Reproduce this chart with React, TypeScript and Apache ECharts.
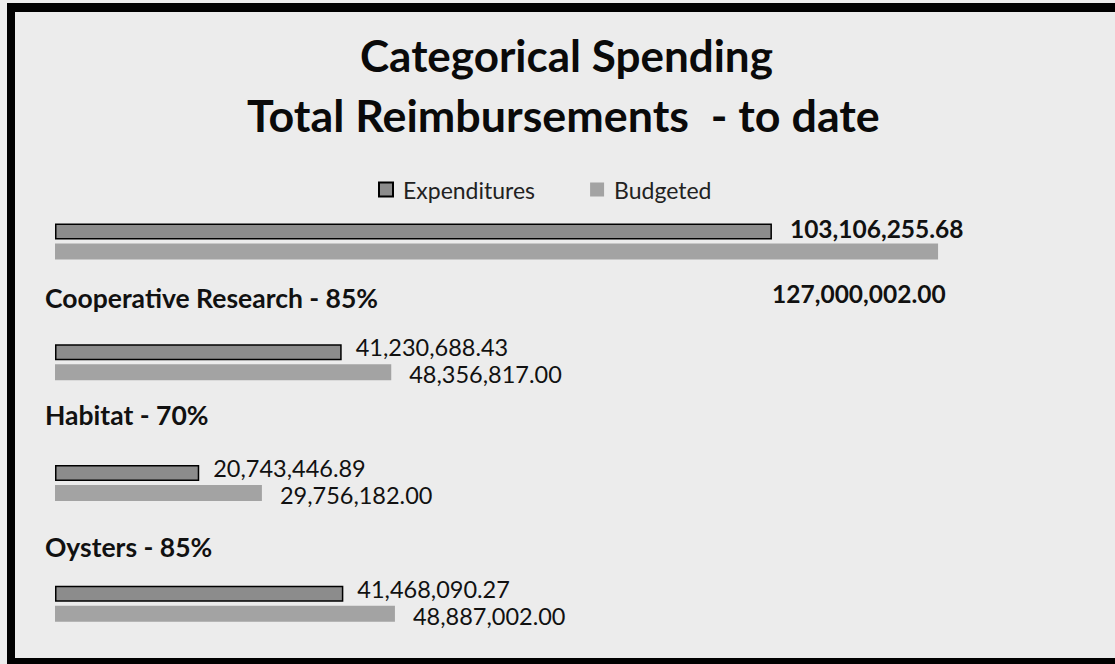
import React, { useEffect, useRef } from "react";
import * as echarts from "echarts";

const categories = ["", "Cooperative Research - 85%", "Habitat - 70%", "Oysters - 85%"];
const expenditures = [103106255.68, 41230688.43, 20743446.89, 41468090.27];
const budgeted = [127000002.0, 48356817.0, 29756182.0, 48887002.0];
const titleLines = ["Categorical Spending", "Total Reimbursements  - to date"];
const seriesNames = ["Expenditures", "Budgeted"];

const FONT = "Lato, 'Open Sans', sans-serif";

const fmt = (v: number) =>
  v.toLocaleString("en-US", { minimumFractionDigits: 2, maximumFractionDigits: 2 });

export default function App() {
  const ref = useRef<HTMLDivElement>(null);
  useEffect(() => {
    if (!ref.current) return;
    const chart = echarts.init(ref.current, null, { renderer: "svg" });
    const labelPads = [0, 98, 106, 84];
    const rich: Record<string, any> = {};
    categories.forEach((_, i) => {
      rich["c" + i] = {
        fontFamily: FONT,
        fontSize: 26.5,
        fontWeight: "bold",
        color: "#111",
        lineHeight: 30,
        padding: [0, 0, labelPads[i], 0],
      };
    });
    chart.setOption({
      animation: false,
      backgroundColor: "#ececec",
      textStyle: { fontFamily: FONT },
      title: [
        {
          text: titleLines[0],
          left: 360,
          top: 33,
          padding: 0,
          textStyle: { fontFamily: FONT, fontSize: 44, fontWeight: "bold", color: "#0a0a0a" },
        },
        {
          text: titleLines[1],
          left: 247,
          top: 92,
          padding: 0,
          textStyle: { fontFamily: FONT, fontSize: 44.8, fontWeight: "bold", color: "#0a0a0a" },
        },
      ],
      legend: {
        left: 378,
        top: 178,
        padding: 0,
        itemWidth: 14,
        itemHeight: 14,
        itemGap: 55,
        icon: "rect",
        data: seriesNames,
        textStyle: { fontFamily: FONT, fontSize: 23, color: "#222", padding: [0, 0, 0, 5] },
      },
      grid: { left: 55, right: 17, top: 181, bottom: 0, containLabel: false },
      xAxis: {
        type: "value",
        min: 0,
        max: 150000000,
        show: false,
        splitLine: { show: false },
      },
      yAxis: {
        type: "category",
        inverse: true,
        data: categories,
        axisLine: { show: false },
        axisTick: { show: false },
        axisLabel: {
          interval: 0,
          hideOverlap: false,
          align: "left",
          verticalAlign: "bottom",
          margin: 10,
          formatter: (v: string, i: number) => (v ? `{c${i}|${v}}` : ""),
          rich,
        },
      },
      series: [
        {
          name: seriesNames[0],
          type: "bar",
          barWidth: 16,
          barGap: "25%",
          itemStyle: { color: "#8c8c8c", borderColor: "#000", borderWidth: 1.5 },
          label: {
            show: true,
            position: "right",
            distance: 14,
            fontFamily: FONT,
            fontSize: 23.5,
            lineHeight: 20,
            color: "#111",
            offset: [0, -5],
            formatter: (p: any) => fmt(p.value),
          },
          data: expenditures.map((v, i) => ({
            value: v,
            label: i === 0 ? { fontWeight: "bold", fontSize: 24.5, distance: 18, offset: [0, -3] } : {},
          })),
        },
        {
          name: seriesNames[1],
          type: "bar",
          barWidth: 16,
          barGap: "25%",
          itemStyle: { color: "#a3a3a3" },
          label: {
            show: true,
            position: "right",
            distance: 18,
            fontFamily: FONT,
            fontSize: 23.5,
            lineHeight: 20,
            color: "#111",
            offset: [0, 2],
            formatter: (p: any) => fmt(p.value),
          },
          data: budgeted.map((v, i) => ({
            value: v,
            label: i === 0 ? { fontWeight: "bold", fontSize: 24.5, distance: 0, offset: [-166, 42] } : {},
          })),
        },
      ],
      graphic: [
        { type: "rect", shape: { x: 7, y: 3, width: 1108, height: 9 }, style: { fill: "#000" } },
        { type: "rect", shape: { x: 7, y: 3, width: 8, height: 661 }, style: { fill: "#000" } },
        { type: "rect", shape: { x: 7, y: 658, width: 1108, height: 6 }, style: { fill: "#000" } },
      ],
    });
    return () => chart.dispose();
  }, []);
  return (
    <div
      ref={ref}
      style={{ position: "fixed", left: 0, top: 0, width: 1115, height: 664 }}
    />
  );
}
